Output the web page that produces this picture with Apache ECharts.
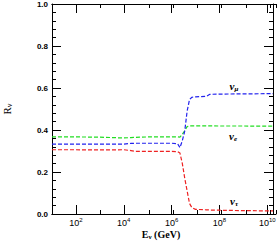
<!DOCTYPE html>
<html><head><meta charset="utf-8">
<script src="https://cdn.jsdelivr.net/npm/echarts@6/dist/echarts.min.js"></script>
<style>html,body{margin:0;padding:0;background:#fff}#c{width:280px;height:242px}</style>
</head><body><div id="c"></div>
<script>
// Energies in GeV, given as log10 exponents
const logE = [1, 2, 3, 4, 4.3, 4.5, 5, 5.5, 6, 6.25, 6.35, 6.45, 6.55, 6.65, 6.75, 6.85, 7.0, 7.45, 7.6, 8, 9, 10, 10.24];
const nuE   = [0.367,0.367,0.366,0.362,0.364,0.365,0.367,0.367,0.367,0.368,0.366,0.38,0.397,0.416,0.42,0.42,0.42,0.42,0.42,0.419,0.419,0.418,0.418];
const nuMu  = [0.333,0.333,0.333,0.333,0.336,0.337,0.337,0.337,0.337,0.335,0.316,0.35,0.395,0.49,0.545,0.556,0.558,0.56,0.57,0.571,0.572,0.573,0.573];
const nuTau = [0.306,0.306,0.305,0.306,0.302,0.298,0.298,0.298,0.298,0.297,0.29,0.24,0.17,0.11,0.05,0.03,0.022,0.02,0.019,0.018,0.016,0.015,0.015];
const yTicks = ['0.0','0.2','0.4','0.6','0.8','1.0'];
const xMin = 10, xMax = Math.pow(10, 10.24);

const energies = logE.map(e => Math.pow(10, e));
const pts = arr => energies.map((x, i) => [x, arr[i]]);

const chart = echarts.init(document.getElementById('c'), null, {renderer: 'svg'});
const black = '#000';
const supLabel = v => {
  const e = Math.log10(v);
  const r = Math.round(e);
  if (Math.abs(e - r) > 0.01 || r % 2 !== 0 || r < 2) return '';
  return '{b|10}{s|' + r + '}';
};
const tickStyle = () => ({color: black, width: 1, type: 'solid'});
const mkX = (gridIndex, position, logBase, splitNumber, len, label) => ({
  type: 'log', gridIndex, min: xMin, max: xMax, position, logBase, splitNumber,
  axisLine: {show: true, onZero: false, lineStyle: {color: black, width: 1, type: 'solid'}},
  splitLine: {show: false},
  axisTick: {show: true, inside: true, length: len, lineStyle: tickStyle()},
  axisLabel: {show: true, margin: 3, formatter: label ? supLabel : () => '',
      rich: {b: {fontFamily: 'Liberation Sans', fontSize: 9, color: black},
             s: {fontFamily: 'Liberation Sans', fontSize: 6, color: black, padding: [0,0,6,0]}}}
});
const mkY = (position, label) => ({
  type: 'value', gridIndex: 0, min: 0, max: 1, interval: 0.2, position,
  axisLine: {show: true, onZero: false, lineStyle: {color: black, width: 1, type: 'solid'}},
  splitLine: {show: false},
  axisTick: {show: true, inside: true, length: 9, lineStyle: tickStyle()},
  minorTick: {show: true, splitNumber: 5, length: 4, lineStyle: tickStyle()},
  axisLabel: {show: true, margin: 4, color: black, fontFamily: 'Liberation Sans', fontWeight: 'bold', fontSize: 8,
      formatter: label ? (v => yTicks[Math.round(v / 0.2)]) : () => ''}
});
const serif = 'Liberation Serif';
const nuLabel = (x, y, sub) => ({type: 'text', x, y,
  style: {text: '{a|ν}{b|' + sub + '}', align: 'center', verticalAlign: 'middle',
    rich: {a: {fontFamily: serif, fontSize: 11, fontStyle: 'italic', fontWeight: 'bold', fill: black},
           b: {fontFamily: serif, fontSize: 7, fontStyle: 'italic', fontWeight: 'bold', fill: black, padding: [5,0,0,0]}}}});
const option = {
  animation: false,
  grid: [
    {left: 52, right: 4, top: 4, bottom: 28},
    {left: 52, right: 4, top: 4, bottom: 28}
  ],
  xAxis: [
    mkX(0, 'bottom', 100, 5, 9, true),
    mkX(0, 'top', 100, 5, 9, false),
    mkX(1, 'bottom', 10, 10, 4, false),
    mkX(1, 'top', 10, 10, 4, false)
  ],
  yAxis: [
    mkY('left', true),
    mkY('right', false),
    {type: 'value', gridIndex: 1, min: 0, max: 1, show: false}
  ],
  series: [
    {name: 'nu_e', type: 'line', xAxisIndex: 0, yAxisIndex: 0, data: pts(nuE), showSymbol: false,
      lineStyle: {color: '#22dd22', width: 1.2, type: [4, 2]}},
    {name: 'nu_mu', type: 'line', xAxisIndex: 0, yAxisIndex: 0, data: pts(nuMu), showSymbol: false,
      lineStyle: {color: '#2222ee', width: 1.2, type: [4, 2]}},
    {name: 'nu_tau', type: 'line', xAxisIndex: 0, yAxisIndex: 0, data: pts(nuTau), showSymbol: false,
      lineStyle: {color: '#ee2222', width: 1.2, type: [4, 2]}}
  ],
  graphic: [
    {type: 'text', x: 7, y: 109, rotation: Math.PI / 2,
      style: {text: '{a|R}{b|ν}', align: 'center', verticalAlign: 'middle',
        rich: {a: {fontFamily: serif, fontSize: 11, fill: black},
               b: {fontFamily: serif, fontSize: 8, fill: black, padding: [5,0,0,0]}}}},
    {type: 'text', x: 161, y: 234,
      style: {text: '{a|E}{b|ν}{a| (GeV)}', align: 'center', verticalAlign: 'middle',
        rich: {a: {fontFamily: serif, fontSize: 10, fontWeight: 'bold', fill: black},
               b: {fontFamily: serif, fontSize: 7, fontWeight: 'bold', fill: black, padding: [5,0,0,0]}}}},
    nuLabel(234, 86, 'μ'),
    nuLabel(233, 136, 'e'),
    nuLabel(234, 201, 'τ')
  ]
};
chart.setOption(option);
</script></body></html>
